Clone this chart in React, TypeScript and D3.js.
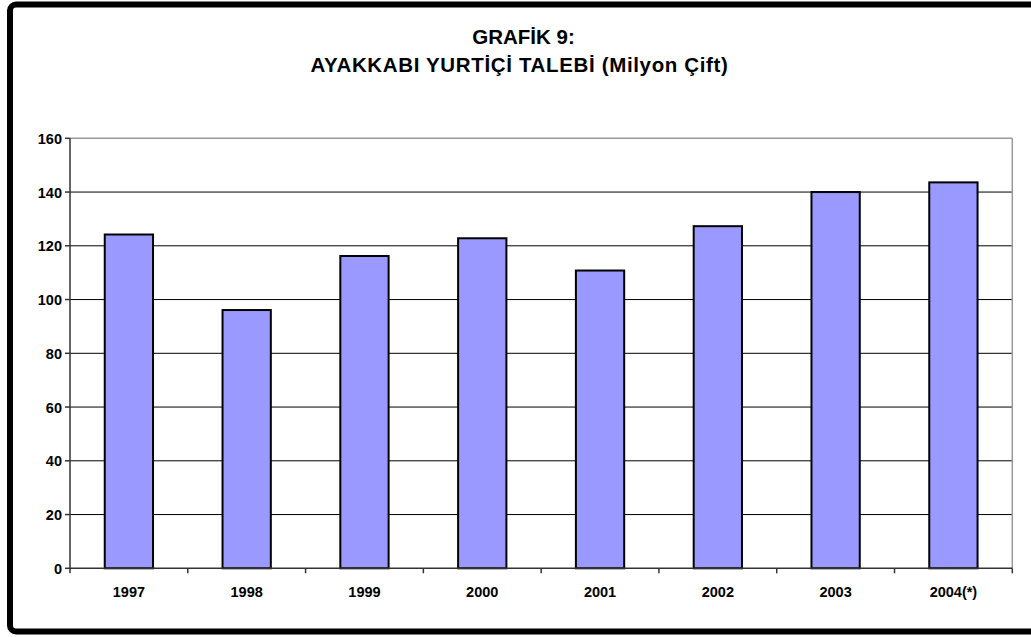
import React from "react";
import * as d3 from "d3";

const categories = ["1997", "1998", "1999", "2000", "2001", "2002", "2003", "2004(*)"];
const values = [124.2, 96.1, 116.2, 122.8, 110.8, 127.3, 140.0, 143.6];
const yTicks = [0, 20, 40, 60, 80, 100, 120, 140, 160];
const titleLines = ["GRAFİK 9:", "AYAKKABI YURTİÇİ TALEBİ (Milyon Çift)"];

const W = 1031;
const H = 637;
const plot = { left: 70, right: 1012.3, top: 138.3, bottom: 568.3 };
const FONT = "'Liberation Sans', Arial, sans-serif";

export default function App() {
  const x = d3.scaleBand<string>().domain(categories).range([plot.left, plot.right]).padding(0);
  const y = d3.scaleLinear().domain([0, 160]).range([plot.bottom, plot.top]);
  const barW = x.bandwidth() * 0.41;

  return (
    <svg
      width={W}
      height={H}
      style={{ position: "absolute", left: 0, top: 0, display: "block", background: "#fff" }}
    >
      <rect x={0} y={0} width={W} height={H} fill="#fff" />
      {/* outer frame */}
      <rect x={10} y={4.5} width={W + 20} height={627} rx={6} ry={6} fill="none" stroke="#000" strokeWidth={6} />

      {/* title */}
      <text x={523.5} y={43.5} textAnchor="middle" fontFamily={FONT} fontWeight="bold" fontSize={20.5} fill="#000">
        {titleLines[0]}
      </text>
      <text
        x={519.5}
        y={72}
        textAnchor="middle"
        fontFamily={FONT}
        fontWeight="bold"
        fontSize={20.5}
        letterSpacing={0.65}
        fill="#000"
      >
        {titleLines[1]}
      </text>

      {/* gridlines */}
      {yTicks.filter((t) => t > 0 && t < 160).map((t) => (
        <line key={"g" + t} x1={plot.left} x2={plot.right} y1={y(t)} y2={y(t)} stroke="#000" strokeWidth={1} />
      ))}
      {/* plot frame top/right */}
      <line x1={plot.left} x2={plot.right} y1={y(160)} y2={y(160)} stroke="#999" strokeWidth={1.5} />
      <line x1={plot.right} x2={plot.right} y1={y(160)} y2={y(0)} stroke="#999" strokeWidth={1.5} />

      {/* bars */}
      {categories.map((c, i) => (
        <rect
          key={c}
          x={(x(c) as number) + x.bandwidth() / 2 - barW / 2}
          y={y(values[i])}
          width={barW}
          height={y(0) - y(values[i])}
          fill="#9999FF"
          stroke="#000"
          strokeWidth={2}
        />
      ))}

      {/* y axis */}
      <line x1={plot.left} x2={plot.left} y1={y(160)} y2={y(0)} stroke="#333" strokeWidth={1.5} />
      {yTicks.map((t) => (
        <g key={"y" + t}>
          <line x1={plot.left - 5} x2={plot.left} y1={y(t)} y2={y(t)} stroke="#333" strokeWidth={1.5} />
          <text x={62} y={y(t) + 5.5} textAnchor="end" fontFamily={FONT} fontWeight="bold" fontSize={14.5} fill="#000">
            {t}
          </text>
        </g>
      ))}

      {/* x axis */}
      <line x1={plot.left} x2={plot.right} y1={y(0)} y2={y(0)} stroke="#333" strokeWidth={1.5} />
      {categories.map((c) => (
        <line key={"xt" + c} x1={x(c) as number} x2={x(c) as number} y1={y(0)} y2={y(0) + 5} stroke="#333" strokeWidth={1.5} />
      ))}
      <line x1={plot.right} x2={plot.right} y1={y(0)} y2={y(0) + 5} stroke="#333" strokeWidth={1.5} />
      {categories.map((c) => (
        <text
          key={"xl" + c}
          x={(x(c) as number) + x.bandwidth() / 2}
          y={596.5}
          textAnchor="middle"
          fontFamily={FONT}
          fontWeight="bold"
          fontSize={14.5}
          fill="#000"
        >
          {c}
        </text>
      ))}
    </svg>
  );
}
